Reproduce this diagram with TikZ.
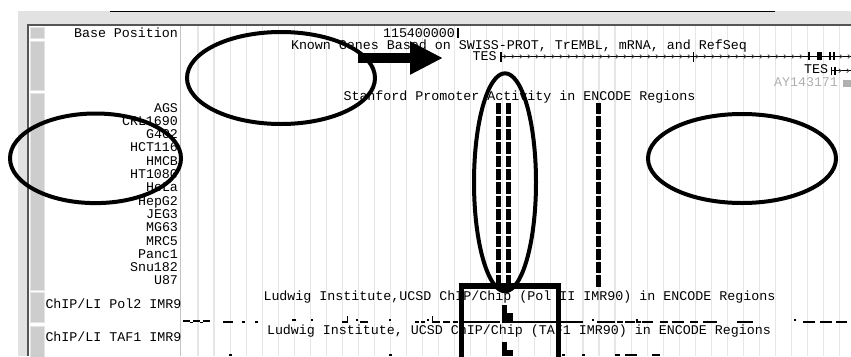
\documentclass[tikz,border=0pt]{standalone}
\usepackage{fontspec}
\setmonofont{Liberation Mono}
\usetikzlibrary{arrows.meta}
\definecolor{texgray}{HTML}{E2E2E2}
\definecolor{framegray}{HTML}{555555}
\definecolor{btnfill}{HTML}{CDCDCD}
\definecolor{btnedge}{HTML}{E4E4E4}
\definecolor{gridgray}{HTML}{E6E6E6}
\definecolor{sepgray}{HTML}{C4C4C4}
\definecolor{faint}{HTML}{B0B0B0}
\begin{document}
\begin{tikzpicture}[x=1bp,y=-1bp,
  every node/.style={inner sep=0pt,outer sep=0pt},
  txt/.style={font=\ttfamily\fontsize{13.38pt}{14pt}\selectfont,anchor=base west},
  rtxt/.style={txt,anchor=base east},
  btn/.style={fill=btnfill,draw=btnedge,line width=0.8bp},
  gridln/.style={draw=gridgray,line width=1.1bp},
  actbar/.style={line width=4.6bp,dash pattern=on 11.3bp off 2bp},
  trk/.style={line width=1.2bp},
  note/.style={draw=black,line width=4bp},
  chev/.style={line width=0.7bp,draw=black!80}]
\useasboundingbox (0,0) rectangle (851,356);
% textured frame
\fill[texgray] (18,11) rectangle (851,24);
\fill[texgray] (18,11) rectangle (27,356);
\draw[line width=1.6bp] (110,11.5) -- (775,11.5);
\draw[framegray,line width=2bp] (28,356) -- (28,25) -- (851,25);
% side buttons
\draw[btn] (30.5,27.5) rectangle (44,38.5);
\draw[btn] (30.5,41) rectangle (44,90);
\draw[btn] (30.5,93) rectangle (44,290);
\draw[btn] (30.5,292.5) rectangle (44,322.5);
\draw[btn] (30.5,326) rectangle (44,358);
% grid
\foreach \k in {0,...,40} \draw[gridln] ({198+16.04*\k},26) -- ({198+16.04*\k},356);
\draw[sepgray,line width=1bp] (180.5,26) -- (180.5,356);
% labels
\node[rtxt] (basepos) at (178,37) {Base Position};
\foreach [count=\i from 0] \nm in {AGS,CRL1690,G402,HCT116,HMCB,HT1080,HeLa,HepG2,JEG3,MG63,MRC5,Panc1,Snu182,U87}
  \node[rtxt] (cell\i) at (178,{112+13.3*\i}) {\nm};
\begin{scope}
  \clip (45,290) rectangle (180,356);
  \node[txt] (polLbl) at (45.5,308.5) {ChIP/LI Pol2 IMR90};
  \node[txt] (tafLbl) at (45.5,341.5) {ChIP/LI TAF1 IMR90};
\end{scope}
% position ruler
\node[txt] (pos) at (383,37) {115400000};
\draw[line width=1.2bp] (458,28) -- (458,37.5);
% known genes
\node[txt,text depth=0pt] (kgTitle) at (291,49) {Known Genes Based on SWISS-PROT, TrEMBL, mRNA, and RefSeq};
\node[txt] (tes1) at (472.5,60.3) {TES};
\draw[line width=1bp] (501,56.5) -- (851,56.5);
\draw[line width=1.4bp] (501,52) -- (501,61.5);
\foreach \x in {506,514,...,804} \draw[chev] (\x-2.2,54.6) -- (\x,56.5) -- (\x-2.2,58.4);
\foreach \x in {842,850} \draw[chev] (\x-2.2,54.6) -- (\x,56.5) -- (\x-2.2,58.4);
\draw[line width=1.2bp] (693.5,51.5) -- (693.5,62);
\fill (807.5,52) rectangle (809.5,60);
\fill (816.5,52) rectangle (821.5,60);
\fill (828.5,52) rectangle (830.5,60);
\fill (832.5,52) rectangle (834.5,60);
\node[txt] (tes2) at (804,73) {TES};
\draw[line width=1bp] (831,70.7) -- (851,70.7);
\fill (830.5,66.5) rectangle (832,75);
\fill (834,66.5) rectangle (835.5,75);
\foreach \x in {841,849} \draw[chev] (\x-2.2,68.8) -- (\x,70.7) -- (\x-2.2,72.6);
\node[txt,text=faint] (ay) at (774,86.7) {AY143171};
\fill[faint] (843,80) rectangle (851,87);
% Stanford promoter activity
\node[txt] (stTitle) at (343.5,100) {Stanford Promoter Activity in ENCODE Regions};
\coordinate (b1t) at (498.3,102.5); \coordinate (b1b) at (498.3,288.6);
\coordinate (b2t) at (508.3,102.5); \coordinate (b2b) at (508.3,288.6);
\coordinate (b3t) at (598.3,102.5); \coordinate (b3b) at (598.3,288.6);
\draw[actbar] (b1t) -- (b1b);
\draw[actbar] (b2t) -- (b2b);
\draw[actbar] (b3t) -- (b3b);
% Pol II track
\node[txt] (polTitle) at (263.5,300) {Ludwig Institute,UCSD ChIP/Chip (Pol II IMR90) in ENCODE Regions};
\foreach \a/\b/\y in {183/190/321,190/193/322.5,193/200/321,200/203/322.5,203/210/321,
  223/233/322,242/245/322,255/258/322,342/347/322,360/368/322,415/419/322,421/425/322,
  433/440/322,443/450/322,453/458/322,462/473/322,473/500/322,513/583/322,
  597/615/322,617/623/322,625/635/322,642/653/322,660/668/322,672/684/322,690/698/322,
  703/717/322,737/753/322,803/815/322,820/832/322,836/847/322}
  \draw[trk] (\a,\y) -- (\b,\y);
\foreach \x/\y in {293/320,295/320,312/320,357/320,390/320,428/320,593/320,795/320}
  \fill (\x-1.2,\y-1.2) rectangle (\x+1.2,\y+1.2);
\fill (346.5,316) rectangle (348,322.5);
\fill (431.5,316) rectangle (433,322.5);
\fill (636,319) rectangle (638,322.5);
\fill (638,320.5) rectangle (641,322.5);
\fill (502,305) rectangle (507,323);
\fill (507,313) rectangle (513,323);
% TAF1 track
\node[txt] (tafTitle) at (267,334) {Ludwig Institute, UCSD ChIP/Chip (TAF1 IMR90) in ENCODE Regions};
\fill (502,342) rectangle (507,356);
\fill (507,350) rectangle (513,356);
\foreach \a/\b in {229/232,389/392,562/565,582/585,615/620,625/637,652/660}
  \draw[trk] (\a,355) -- (\b,355);
% annotations
\draw[note] (281,78) ellipse [x radius=94, y radius=46];
\draw[note] (95.5,158.3) ellipse [x radius=85.5, y radius=44.8];
\draw[note] (742,158.5) ellipse [x radius=94, y radius=44.5];
\draw[note] (505,182.3) ellipse [x radius=31, y radius=109];
\draw[draw=black,line width=5.5bp] (461.5,370) -- (461.5,286) -- (558.5,286) -- (558.5,370);
\coordinate (arrS) at (358,58);
\coordinate (arrE) at (443,58);
\draw[line width=10bp,line cap=butt,-{Triangle[length=33bp,width=31bp]}] (arrS) -- (arrE);
\end{tikzpicture}
\end{document}
